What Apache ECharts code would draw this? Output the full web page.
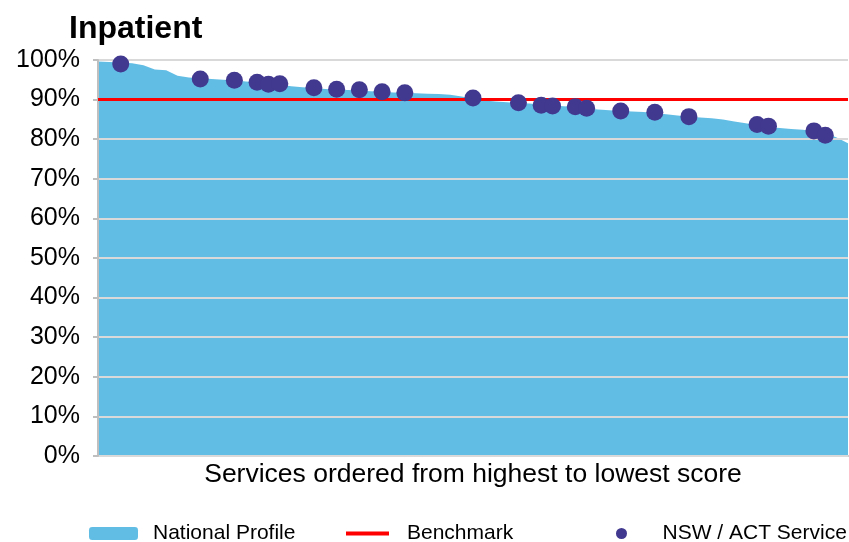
<!DOCTYPE html>
<html>
<head>
<meta charset="utf-8">
<script src="https://cdn.jsdelivr.net/npm/echarts@6/dist/echarts.min.js"></script>
<style>
  html, body { margin: 0; padding: 0; background: #fff; }
  #chart { width: 849px; height: 542px; }
</style>
</head>
<body>
<div id="chart"></div>
<script>
// national profile, services ordered from highest to lowest score (%)
const nationalScores = [
  99.6, 99.5, 99.4, 99.2, 98.7, 97.6, 97.4, 96.0, 95.6, 95.4,
  95.2, 95.0, 94.9, 94.6, 94.4, 94.1, 93.8, 93.4, 93.1, 92.9,
  92.7, 92.5, 92.4, 92.3, 92.1, 92.0, 91.8, 91.7, 91.6, 91.5,
  91.4, 91.2, 90.8, 90.3, 89.8, 89.5, 89.3, 89.1, 89.0, 88.7,
  88.5, 88.3, 88.1, 87.8, 87.5, 87.3, 87.1, 87.0, 86.9, 86.6,
  86.3, 86.0, 85.7, 85.5, 85.3, 85.0, 84.5, 84.0, 83.6, 83.1,
  82.8, 82.6, 82.4, 82.1, 81.6, 80.4, 79.0
]
// rank position of each NSW / ACT service within the national list
const nswRanks = [2, 9, 12, 14, 15, 16, 19, 21, 23, 25, 27, 33, 37, 39, 40, 42, 43, 46, 49, 52, 58, 59, 63, 64]
const nswScores = [99.0, 95.2, 94.9, 94.4, 93.9, 94.0, 93.0, 92.6, 92.5, 92.0, 91.7, 90.4, 89.2, 88.6, 88.4, 88.2, 87.8, 87.1, 86.8, 85.7, 83.7, 83.3, 82.1, 81.0]
const benchmark = 90
const yTicks = [0, 10, 20, 30, 40, 50, 60, 70, 80, 90, 100]

const services = nationalScores.map((v, i) => 'Service ' + (i + 1))
const nswData = nswRanks.map((r, i) => [r, nswScores[i]])

const font = '"Liberation Sans", Arial, sans-serif'
const chart = echarts.init(document.getElementById('chart'))

const option = {
  animation: false,
  title: {
    text: 'Inpatient',
    left: 64,
    top: 8,
    textStyle: { fontFamily: font, fontSize: 32, fontWeight: 'bold', color: '#000' }
  },
  grid: { left: 98, right: 1, top: 60, bottom: 86 },
  legend: [
    {
      data: ['National Profile'],
      left: 84, top: 518,
      icon: 'roundRect', itemWidth: 49, itemHeight: 13,
      textStyle: { fontFamily: font, fontSize: 21, color: '#000', padding: [0, 0, 0, 10] }
    },
    {
      data: ['Benchmark'],
      left: 341, top: 518,
      icon: 'rect', itemWidth: 43, itemHeight: 4,
      textStyle: { fontFamily: font, fontSize: 21, color: '#000', padding: [0, 0, 0, 13] }
    },
    {
      data: ['NSW / ACT Service'],
      left: 611, top: 518,
      icon: 'circle', itemWidth: 72, itemHeight: 11,
      textStyle: { fontFamily: font, fontSize: 21, color: '#000' }
    }
  ],
  xAxis: {
    type: 'category',
    data: services,
    boundaryGap: false,
    name: 'Services ordered from highest to lowest score',
    nameLocation: 'middle',
    nameGap: 5,
    nameTextStyle: { fontFamily: font, fontSize: 26.5, color: '#000', verticalAlign: 'top' },
    axisLine: { show: true, lineStyle: { color: '#BFBFBF', width: 2 } },
    axisTick: { show: false },
    axisLabel: { show: false },
    splitLine: { show: false }
  },
  yAxis: {
    type: 'value',
    min: yTicks[0],
    max: yTicks[yTicks.length - 1],
    interval: 10,
    z: 3,
    axisLine: { show: true, lineStyle: { color: '#BFBFBF', width: 2 } },
    axisTick: { show: true, length: 5, lineStyle: { color: '#BFBFBF', width: 2 } },
    axisLabel: { formatter: '{value}%', margin: 18, fontFamily: font, fontSize: 25, color: '#000', padding: [4, 0, 0, 0] },
    splitLine: { show: true, lineStyle: { color: '#D9D9D9', width: 2 } }
  },
  series: [
    {
      name: 'National Profile',
      type: 'line',
      data: nationalScores,
      symbol: 'none',
      z: 1,
      color: '#62BDE5',
      lineStyle: { width: 0 },
      areaStyle: { color: '#62BDE5', opacity: 1 }
    },
    {
      name: 'Benchmark',
      type: 'line',
      data: [],
      color: '#FF0000',
      z: 4,
      markLine: {
        silent: true,
        symbol: 'none',
        label: { show: false },
        lineStyle: { color: '#FF0000', width: 3, type: 'solid' },
        data: [{ yAxis: benchmark }]
      }
    },
    {
      name: 'NSW / ACT Service',
      type: 'scatter',
      data: nswData,
      symbolSize: 17,
      z: 5,
      color: '#41388F',
      itemStyle: { color: '#41388F', opacity: 1 }
    }
  ]
}

chart.setOption(option)
</script>
</body>
</html>
